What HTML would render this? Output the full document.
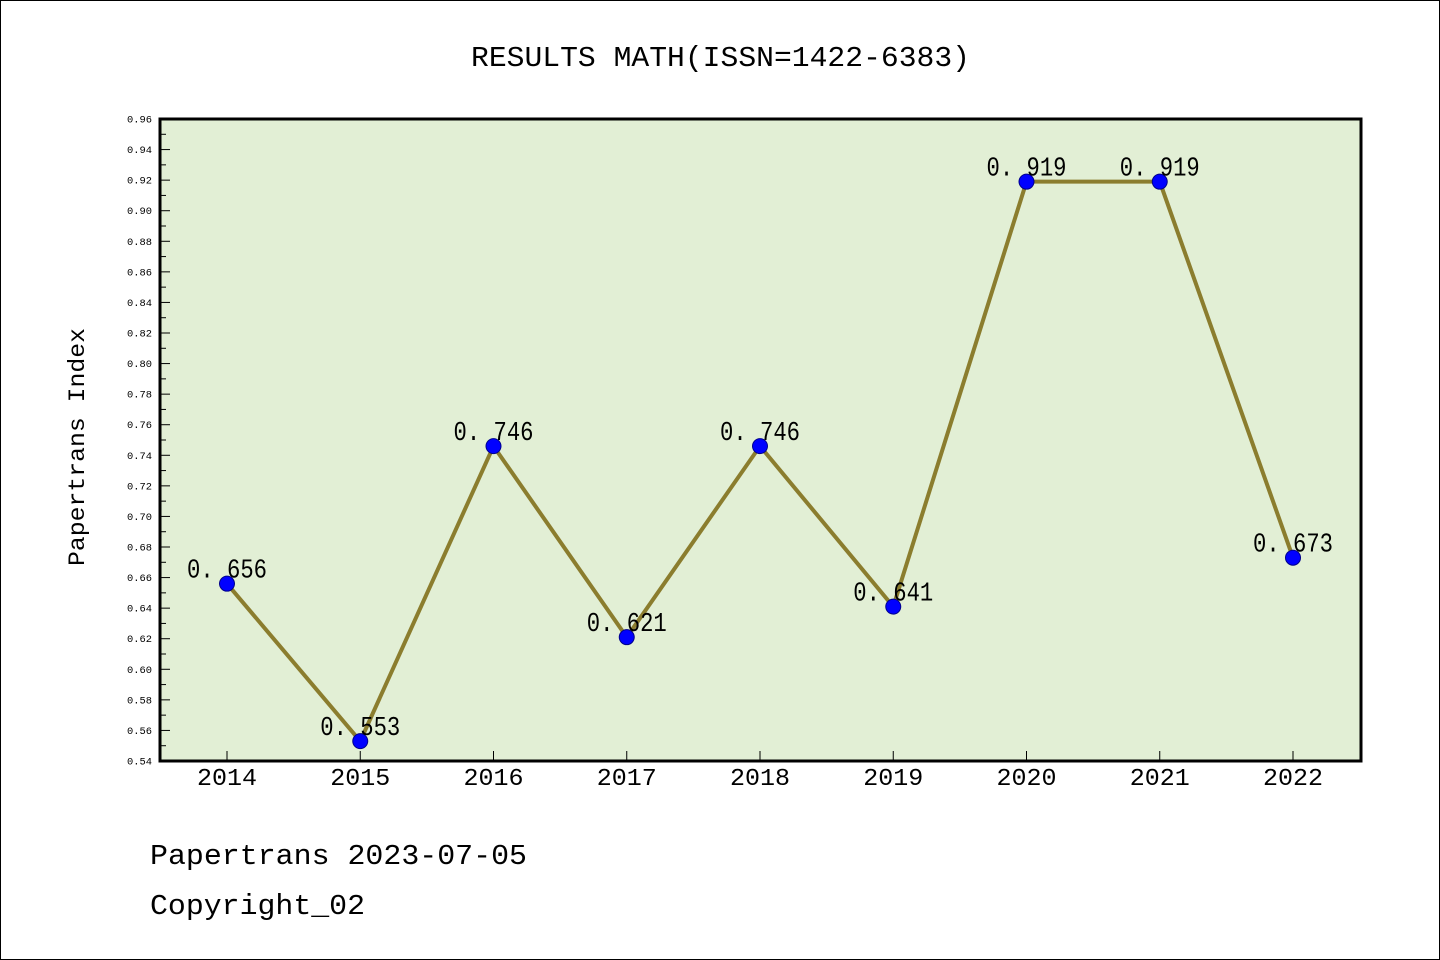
<!DOCTYPE html>
<html><head><meta charset="utf-8"><style>
html,body{margin:0;padding:0;background:#fff}
svg{display:block}
text{font-family:"Liberation Mono",monospace;fill:#000}
</style></head><body>
<svg id="s" width="1440" height="960" xmlns="http://www.w3.org/2000/svg">
<rect x="0.5" y="0.5" width="1439" height="959" fill="#fff" stroke="#000" stroke-width="1"/>
<rect x="160" y="119" width="1201" height="642" fill="#e2efd5"/>
<text x="471" y="66" font-size="29" textLength="499" lengthAdjust="spacingAndGlyphs">RESULTS MATH(ISSN=1422-6383)</text>
<text transform="translate(84,566) rotate(-90)" font-size="23" textLength="238" lengthAdjust="spacingAndGlyphs">Papertrans Index</text>
<text x="150" y="864" font-size="29" textLength="377" lengthAdjust="spacingAndGlyphs">Papertrans 2023-07-05</text>
<text x="150" y="914" font-size="29" textLength="215" lengthAdjust="spacingAndGlyphs">Copyright_02</text>
<g id="g"></g>
<rect x="160" y="119" width="1201" height="642" fill="none" stroke="#000" stroke-width="3"/>
</svg>
<script>
var g=document.getElementById('g'),h='';
function Y(v){return 761-(v-0.54)/0.42*642}
for(var i=0;i<=42;i++){var v=0.54+i*0.01,y=Y(v);var maj=i%2==0;
h+='<line x1="160" x2="'+(maj?170:166)+'" y1="'+y+'" y2="'+y+'" stroke="#000" stroke-width="1"/>';
if(maj)h+='<text x="127" y="'+(y+3.5)+'" font-size="10" textLength="25" lengthAdjust="spacingAndGlyphs">'+v.toFixed(2)+'</text>';}
var d=[0.656,0.553,0.746,0.621,0.746,0.641,0.919,0.919,0.673],pts=[];
for(var i=0;i<9;i++){var x=227+i*133.25;pts.push(x+','+Y(d[i]));
h+='<line x1="'+x+'" x2="'+x+'" y1="761" y2="751" stroke="#000"/>';
h+='<text x="'+(x-30)+'" y="785" font-size="24" textLength="60" lengthAdjust="spacingAndGlyphs">'+(2014+i)+'</text>';}
h+='<polyline points="'+pts.join(' ')+'" fill="none" stroke="#8b7d2e" stroke-width="4"/>';
for(var i=0;i<9;i++){var x=227+i*133.25,y=Y(d[i]);
h+='<circle cx="'+x+'" cy="'+y+'" r="7.5" fill="#0000ff" stroke="#00008b" stroke-width="1"/>';
h+='<text x="'+(x-40)+'" y="'+(y-6)+'" font-size="27" textLength="80" lengthAdjust="spacingAndGlyphs">'+d[i].toFixed(3).replace('.','. ')+'</text>';}
g.innerHTML=h;
</script>
</body></html>
